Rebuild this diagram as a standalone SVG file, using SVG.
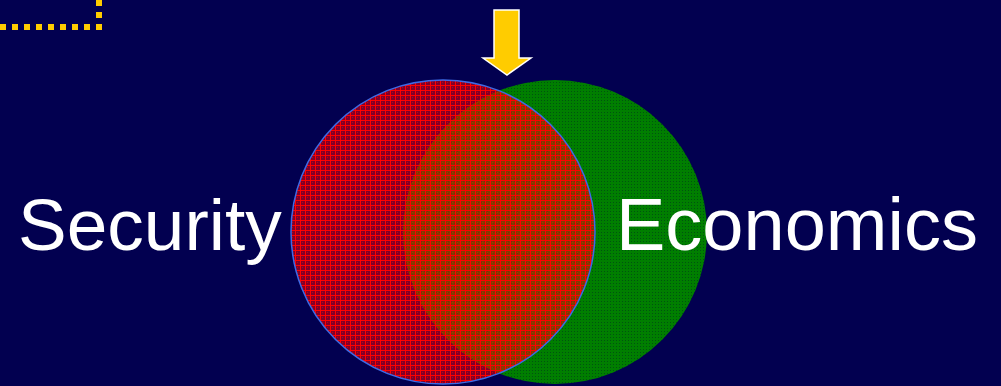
<svg xmlns="http://www.w3.org/2000/svg" width="1001" height="386" viewBox="0 0 1001 386">
  <style>
    .label { font-family: "Liberation Sans", Arial, sans-serif; font-size: 73px; fill: #ffffff; }
    .dots { fill: none; stroke: #ffcc00; stroke-width: 6; stroke-dasharray: 6 6; }
  </style>
  <defs>
    <pattern id="redGrid" width="5" height="5" patternUnits="userSpaceOnUse">
      <rect width="5" height="5" fill="#ff0000" fill-opacity="0.5"/>
      <rect x="2" y="2" width="1" height="1" fill="#ff0000" fill-opacity="0.5"/>
      <rect x="0" y="0" width="5" height="1" fill="#ff0000"/>
      <rect x="0" y="0" width="1" height="5" fill="#ff0000"/>
    </pattern>
    <pattern id="greenDots" width="3" height="3" patternUnits="userSpaceOnUse">
      <rect width="3" height="3" fill="#007e00"/>
      <rect x="1" y="1" width="1" height="1" fill="#005210"/>
    </pattern>
  </defs>
  <rect width="1001" height="386" fill="#020050"/>

  <g id="connectors">
    <path class="dots" d="M0 27 H99 V0"/>
    <path id="arrow" d="M494 10 H519 V58 H531 L507 75 L483 58 H494 Z" fill="#ffcc00" stroke="#ffffff" stroke-width="1.5" stroke-linejoin="miter"/>
  </g>

  <g id="economics">
    <circle cx="555" cy="232" r="152" fill="url(#greenDots)"/>
  </g>
  <g id="security">
    <circle cx="443" cy="232" r="152" fill="url(#redGrid)" stroke="#3d6ae6" stroke-width="1.5"/>
  </g>

  <g id="labels">
    <text id="security-label" class="label" x="18" y="250">Security</text>
    <text id="economics-label" class="label" x="616" y="250" style="font-size:74px">Economics</text>
  </g>
</svg>
